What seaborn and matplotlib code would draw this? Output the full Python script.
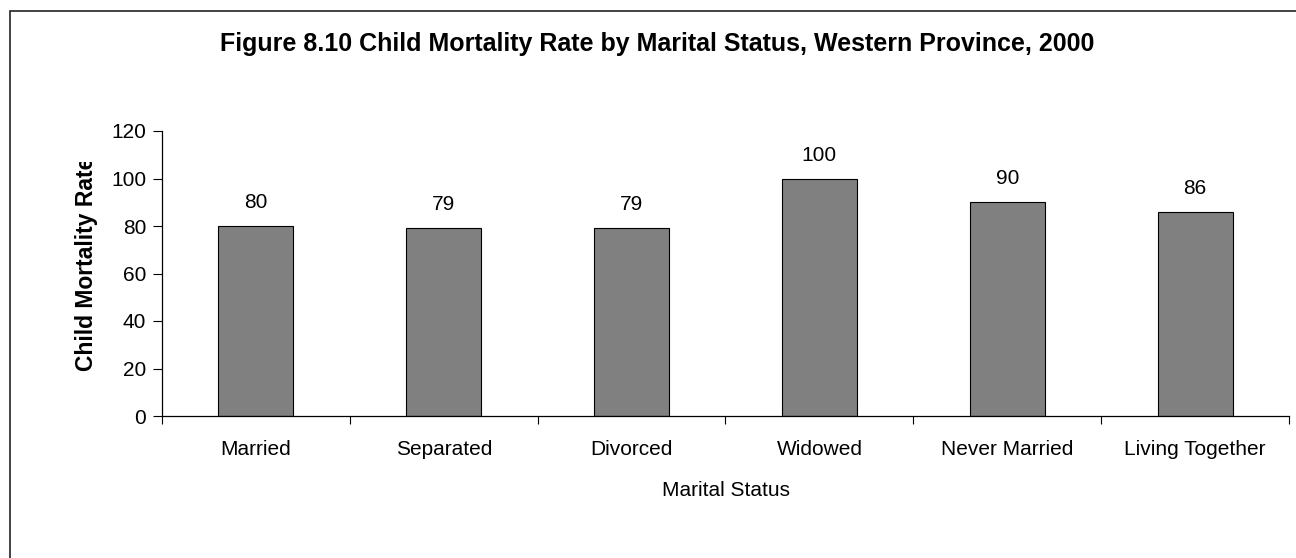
import matplotlib
matplotlib.use("Agg")
import matplotlib.pyplot as plt
import matplotlib.patches as mpatches
from matplotlib.transforms import Bbox
import seaborn as sns
import pandas as pd

categories = ["Married", "Separated", "Divorced", "Widowed", "Never Married", "Living Together"]
mortality_rate = [80, 79, 79, 100, 90, 86]
y_ticks = [0, 20, 40, 60, 80, 100, 120]

sns.set_theme(style="white")
plt.rcParams["font.family"] = ["Liberation Sans", "DejaVu Sans"]
plt.rcParams["text.color"] = "black"
plt.rcParams["axes.labelcolor"] = "black"
plt.rcParams["xtick.color"] = "black"
plt.rcParams["ytick.color"] = "black"

W, H, DPI = 1296, 558, 100
fig = plt.figure(figsize=(W / DPI, H / DPI), dpi=DPI)
fig.patch.set_facecolor("white")

# plot area in pixel terms: left 162, right 1289, top 131, bottom 416
ax = fig.add_axes([162 / W, 1 - 416 / H, (1289 - 162) / W, (416 - 131) / H])

df = pd.DataFrame({"status": categories, "rate": mortality_rate})
sns.barplot(data=df, x="status", y="rate", color="#808080", saturation=1,
            edgecolor="black", linewidth=0.8, width=0.4, ax=ax)

ax.set_ylim(0, 120)
ax.set_xlim(-0.5, len(categories) - 0.5)
ax.set_yticks(y_ticks)
ax.tick_params(axis="y", labelsize=15, length=6.5, width=0.8, color="black",
               labelcolor="black", direction="out", pad=5, left=True)

# tick marks on category boundaries, labels at category centres
ax.set_xticks([i - 0.5 for i in range(len(categories) + 1)])
ax.set_xticklabels([])
ax.set_xticks(range(len(categories)), minor=True)
ax.set_xticklabels(categories, minor=True)
ax.tick_params(axis="x", which="major", length=6, width=0.8, color="black",
               direction="out", bottom=True)
ax.tick_params(axis="x", which="minor", length=0, labelsize=15, pad=17,
               labelcolor="black")

for side in ["top", "right"]:
    ax.spines[side].set_visible(False)
for side in ["left", "bottom"]:
    ax.spines[side].set_color("black")
    ax.spines[side].set_linewidth(0.9)

ax.bar_label(ax.containers[0], labels=[str(v) for v in mortality_rate],
             padding=10, fontsize=15, color="black")

ax.set_xlabel("Marital Status", fontsize=15, labelpad=16, color="black")
ax.set_ylabel("Child Mortality Rate", fontsize=16.5, fontweight="bold", color="black")
ax.yaxis.set_label_coords(-0.0565, 0.535)
ylab = ax.yaxis.label
ylab.set_clip_box(Bbox([[0, 0], [W, H - 162]]))
ylab.set_clip_on(True)

fig.text(657 / W, 1 - 44 / H,
         "Figure 8.10 Child Mortality Rate by Marital Status, Western Province, 2000",
         ha="center", va="center", fontsize=18, fontweight="bold", color="black")

# chart-area frame
frame = mpatches.Rectangle((9.5 / W, -0.05), 1.1, 1 - 11 / H + 0.05,
                           transform=fig.transFigure, fill=False,
                           edgecolor="#222222", linewidth=1.2, clip_on=False)
fig.patches.append(frame)

fig.savefig("out.png", dpi=DPI)
